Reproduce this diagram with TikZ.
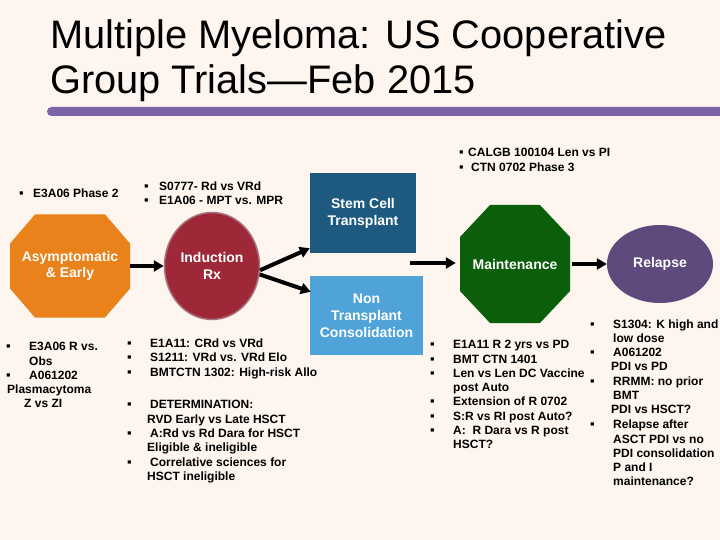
\documentclass[tikz,border=0pt]{standalone}
\usepackage{fontspec}
\setmainfont{Liberation Sans}
\usetikzlibrary{arrows.meta,calc,shapes.geometric}
\definecolor{bg}{HTML}{FDF5EE}
\definecolor{orng}{HTML}{E9821A}
\definecolor{indred}{HTML}{9E2837}
\definecolor{indborder}{HTML}{A87480}
\definecolor{stemblue}{HTML}{1E5A80}
\definecolor{nonblue}{HTML}{4FA3D8}
\definecolor{mgreen}{HTML}{0B5F0B}
\definecolor{relpurple}{HTML}{5E4A7D}
\definecolor{barpurple}{HTML}{7C63A7}
\begin{document}
\begin{tikzpicture}[x=1pt,y=-1pt,
  txt/.style={anchor=base west, inner sep=0pt, font=\fontsize{12}{14.4}\selectfont\bfseries},
  bul/.style={anchor=base west, inner sep=0pt, font=\fontsize{13}{14}\selectfont},
  lbl/.style={text=white, font=\fontsize{14}{17}\selectfont\bfseries, align=center, inner sep=0pt},
  arr/.style={line width=4pt, -{Triangle[length=10pt,width=11pt]}}]
\fill[bg] (0,0) rectangle (720,540);
\useasboundingbox (0,0) rectangle (720,540);

% title
\node[anchor=base west, inner sep=0pt, font=\fontsize{39.8}{45}\selectfont] (title1) at (50,49) {Multiple Myeloma: US Cooperative};
\node[anchor=base west, inner sep=0pt, font=\fontsize{39.8}{45}\selectfont] (title2) at (50,94) {Group Trials—Feb 2015};
\fill[barpurple, rounded corners=4.5pt] (47,107) rectangle (730,116);

% shapes
\fill[orng] (35,214.5) -- (105,214.5) -- (130,243.5) -- (130,288.5) -- (105,317.5) -- (35,317.5) -- (10,288.5) -- (10,243.5) -- cycle;
\node[lbl, minimum width=120pt, minimum height=103pt] (asym) at (70,266) {Asymptomatic\\[-1pt]\& Early};

\node[ellipse, fill=indred, draw=indborder, line width=1.5pt, minimum width=95pt, minimum height=107pt, lbl] (ind) at (212,266) {Induction\\Rx};

\node[rectangle, fill=stemblue, minimum width=106pt, minimum height=80pt, lbl] (stem) at (363,213) {Stem Cell\\Transplant};
\node[rectangle, fill=nonblue, minimum width=113pt, minimum height=79pt, lbl] (nont) at (366.5,315.5) {Non\\Transplant\\Consolidation};

\fill[mgreen] (490,205) -- (540,205) -- (570,237) -- (570,291) -- (540,323) -- (490,323) -- (460,291) -- (460,237) -- cycle;
\node[lbl, minimum width=110pt, minimum height=118pt] (maint) at (515,264) {Maintenance};

\node[ellipse, fill=relpurple, minimum width=106pt, minimum height=78pt, lbl] (rel) at (660,264) {Relapse};

% connectors
\draw[arr] (asym.east) -- (ind.west);
\coordinate (stemin) at ($(stem.south west)+(0,-5)$);
\coordinate (nontin) at ($(nont.north west)+(1,16)$);
\draw[arr] (ind.-5) -- (stemin);
\draw[arr] (ind.-10) -- (nontin);
\coordinate (mstart) at (410,263);
\draw[arr, shorten >=4pt] (mstart) -- (maint.west |- mstart);
\draw[arr, shorten <=2pt] (maint.east) -- (rel.west);

% top texts
\node[bul] (b1) at (19,197) {▪};
\node[txt] (t1) at (33,197) {E3A06 Phase 2};
\node[bul] (b2) at (144,191) {▪};
\node[txt] (t2) at (159,191) {S0777- Rd vs VRd};
\node[bul] (b3) at (144,205) {▪};
\node[txt] (t3) at (159,205) {E1A06 - MPT vs. MPR};
\node[bul] (b4) at (459,157) {▪};
\node[txt] (t4) at (468,157) {CALGB 100104 Len vs PI};
\node[bul] (b5) at (459,172) {▪};
\node[txt] (t5) at (471,172) {CTN 0702 Phase 3};

% left bottom
\node[bul] (b6) at (6,350) {▪};
\node[txt] (t6) at (29,350) {E3A06 R vs.};
\node[txt] (t7) at (29,365) {Obs};
\node[bul] (b7) at (6,379) {▪};
\node[txt] (t8) at (29,379) {A061202};
\node[txt] (t9) at (7,393) {Plasmacytoma};
\node[txt] (t10) at (24,407) {Z vs ZI};

% middle bottom
\node[bul] (b8) at (127,347) {▪};
\node[txt] (t11) at (150,347) {E1A11: CRd vs VRd};
\node[bul] (b9) at (127,361) {▪};
\node[txt] (t12) at (150,361) {S1211: VRd vs. VRd Elo};
\node[bul] (b10) at (127,376) {▪};
\node[txt] (t13) at (150,376) {BMTCTN 1302: High-risk Allo};
\node[bul] (b11) at (127,408) {▪};
\node[txt] (t14) at (150,408) {DETERMINATION:};
\node[txt] (t15) at (147,423) {RVD Early vs Late HSCT};
\node[bul] (b12) at (127,437) {▪};
\node[txt] (t16) at (150,437) {A:Rd vs Rd Dara for HSCT};
\node[txt] (t17) at (147,451) {Eligible \& ineligible};
\node[bul] (b13) at (127,466) {▪};
\node[txt] (t18) at (150,466) {Correlative sciences for};
\node[txt] (t19) at (147,480) {HSCT ineligible};

% right-middle
\node[bul] (b14) at (430,348) {▪};
\node[txt] (t20) at (453,348) {E1A11 R 2 yrs vs PD};
\node[bul] (b15) at (430,363) {▪};
\node[txt] (t21) at (453,363) {BMT CTN 1401};
\node[bul] (b16) at (430,377) {▪};
\node[txt] (t22) at (453,377) {Len vs Len DC Vaccine};
\node[txt] (t23) at (453,391) {post Auto};
\node[bul] (b17) at (430,405) {▪};
\node[txt] (t24) at (453,405) {Extension of R 0702};
\node[bul] (b18) at (430,420) {▪};
\node[txt] (t25) at (453,420) {S:R vs RI post Auto?};
\node[bul] (b19) at (430,434) {▪};
\node[txt] (t26) at (453,434) {A:\ \ R Dara vs R post};
\node[txt] (t27) at (453,448) {HSCT?};

% far right
\node[bul] (b20) at (590,328) {▪};
\node[txt] (t28) at (613,328) {S1304: K high and};
\node[txt] (t29) at (613,342) {low dose};
\node[bul] (b21) at (590,356) {▪};
\node[txt] (t30) at (613,356) {A061202};
\node[txt] (t31) at (611,370) {PDI vs PD};
\node[bul] (b22) at (590,385) {▪};
\node[txt] (t32) at (613,385) {RRMM: no prior};
\node[txt] (t33) at (613,399) {BMT};
\node[txt] (t34) at (611,413) {PDI vs HSCT?};
\node[bul] (b23) at (590,428) {▪};
\node[txt] (t35) at (613,428) {Relapse after};
\node[txt] (t36) at (613,443) {ASCT PDI vs no};
\node[txt] (t37) at (613,457) {PDI consolidation};
\node[txt] (t38) at (613,471) {P and I};
\node[txt] (t39) at (613,485) {maintenance?};
\end{tikzpicture}
\end{document}
